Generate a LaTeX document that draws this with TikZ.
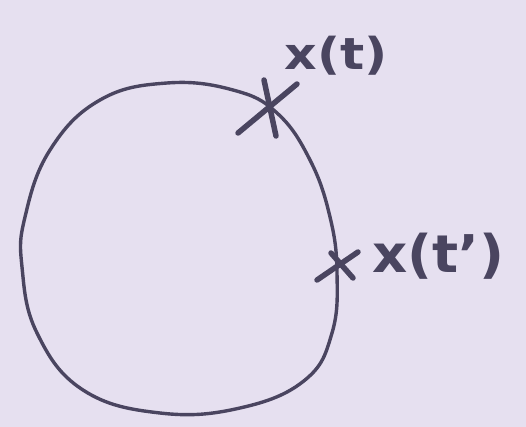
\documentclass[tikz,border=0pt]{standalone}
\usepackage{fontspec}
\setmainfont{DejaVu Sans}
\definecolor{pen}{HTML}{4A4560}
\definecolor{paper}{HTML}{E6E0F0}
\begin{document}
\begin{tikzpicture}[x=1pt,y=-1pt,
  curve/.style={draw=pen,line width=3.4pt,line cap=round,line join=round},
  cross/.style={draw=pen,line width=5.5pt,line cap=round},
  lbl/.style={text=pen,inner sep=0pt,font=\bfseries\fontsize{52}{52}\selectfont}]
\fill[paper] (0,0) rectangle (526,427);
\useasboundingbox (0,0) rectangle (526,427);
\draw[curve] plot[smooth cycle,tension=0.7] coordinates {
  (167,83) (233,90) (277,113) (310,160) (330,217) (337,273) (332,333)
  (305,380) (240,408) (160,413) (83,390) (37,333) (22,267) (25,217)
  (50,150) (100,100)};
% marks
\coordinate (m1) at (270,110);
\coordinate (m2) at (338,265);
\draw[cross] (238,133) -- (297,84);
\draw[cross] (264,80) -- (276,136);
\draw[cross] (317,280) -- (358,252);
\draw[cross] (331,253) -- (353,278);
\node[lbl,font=\bfseries\fontsize{44}{44}\selectfont] (l1) at (336,56) {\scalebox{1.15}[1]{x(t)}};
\node[lbl] (l2) at (438,256) {\scalebox{1.05}[1]{x(t')}};
\end{tikzpicture}
\end{document}
